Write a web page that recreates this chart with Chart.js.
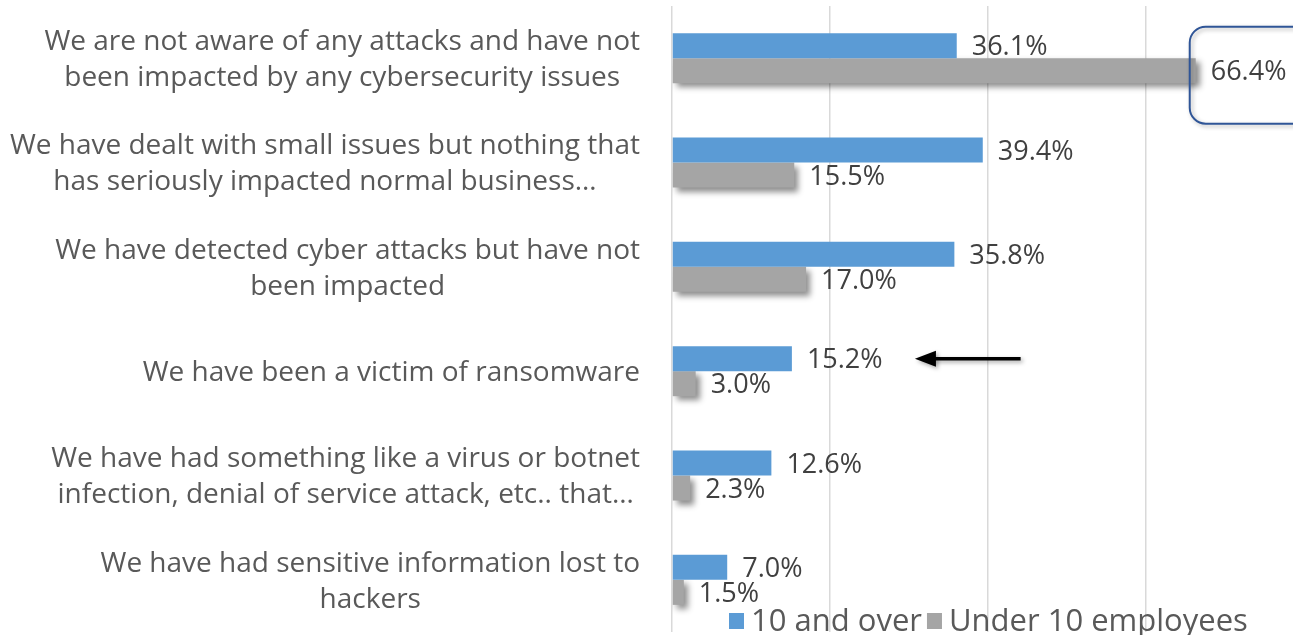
<!DOCTYPE html>
<html>
<head>
<meta charset="utf-8">
<script src="https://cdn.jsdelivr.net/npm/chart.js@4.4.0/dist/chart.umd.min.js"></script>
<style>
  html, body { margin: 0; padding: 0; background: #fff; overflow: hidden; }
  #wrap { position: relative; width: 1303px; height: 635px; }
</style>
</head>
<body>
<div id="wrap"><canvas id="chart"></canvas></div>
<script>
const categories = [
  ['We are not aware of any attacks and have not', 'been impacted by any cybersecurity issues'],
  ['We have dealt with small issues but nothing that', 'has seriously impacted normal business…'],
  ['We have detected cyber attacks but have not', 'been impacted'],
  ['We have been a victim of ransomware'],
  ['We have had something like a virus or botnet', 'infection, denial of service attack, etc.. that…'],
  ['We have had sensitive information lost to', 'hackers']
];
const over10 = [36.1, 39.4, 35.8, 15.2, 12.6, 7.0];
const under10 = [66.4, 15.5, 17.0, 3.0, 2.3, 1.5];
const seriesNames = ['10 and over', 'Under 10 employees'];
const xTicks = [0, 20, 40, 60, 80];

const FONT = '"Open Sans", sans-serif';
const TEXT = '#595959';

// soft drop shadow on the grey bars
const shadowPlugin = {
  id: 'shadow',
  beforeDatasetDraw(chart, args) {
    if (args.index !== 1) return;
    const ctx = chart.ctx;
    ctx.save();
    ctx.shadowColor = 'rgba(0,0,0,0.45)';
    ctx.shadowBlur = 6;
    ctx.shadowOffsetX = 4;
    ctx.shadowOffsetY = 4;
  },
  afterDatasetDraw(chart, args) {
    if (args.index === 1) chart.ctx.restore();
  }
};

const decorPlugin = {
  id: 'decor',
  afterDraw(chart) {
    const ctx = chart.ctx;
    const x = chart.scales.x, y = chart.scales.y;

    // category labels: block right aligned, lines centered inside it
    ctx.save();
    ctx.font = '28px ' + FONT;
    ctx.fillStyle = TEXT;
    ctx.textAlign = 'center';
    ctx.textBaseline = 'middle';
    categories.forEach((lines, i) => {
      const cy = y.getPixelForTick(i) + 2;
      const w = Math.max(...lines.map(l => ctx.measureText(l).width));
      const cx = 640 - w / 2;
      lines.forEach((l, k) => {
        ctx.fillText(l, cx, cy + (k - (lines.length - 1) / 2) * 36);
      });
    });
    ctx.restore();

    // rounded box round the 66.4% label
    const m1 = chart.getDatasetMeta(1).data[0];
    ctx.save();
    ctx.shadowColor = 'rgba(0,0,0,0.3)';
    ctx.shadowBlur = 4;
    ctx.shadowOffsetX = 2;
    ctx.shadowOffsetY = 2;
    ctx.strokeStyle = '#2F5597';
    ctx.lineWidth = 2;
    ctx.beginPath();
    ctx.roundRect(m1.x - 6, m1.y - 44, 150, 97, 16);
    ctx.stroke();
    ctx.restore();

    // value labels
    ctx.save();
    ctx.font = '27px ' + FONT;
    ctx.fillStyle = '#404040';
    ctx.textAlign = 'left';
    ctx.textBaseline = 'middle';
    chart.data.datasets.forEach((ds, di) => {
      chart.getDatasetMeta(di).data.forEach((bar, i) => {
        ctx.fillText(ds.data[i].toFixed(1) + '%', bar.x + 15, bar.y + 2);
      });
    });
    ctx.restore();

    // arrow pointing at the ransomware bar
    const m0 = chart.getDatasetMeta(0).data[3];
    const tip = x.getPixelForValue(30.8), tail = x.getPixelForValue(44.2);
    ctx.save();
    ctx.shadowColor = 'rgba(0,0,0,0.35)';
    ctx.shadowBlur = 4;
    ctx.shadowOffsetX = 2;
    ctx.shadowOffsetY = 2;
    ctx.strokeStyle = '#000';
    ctx.fillStyle = '#000';
    ctx.lineWidth = 3.5;
    ctx.beginPath();
    ctx.moveTo(tail, m0.y);
    ctx.lineTo(tip + 18, m0.y);
    ctx.stroke();
    ctx.beginPath();
    ctx.moveTo(tip, m0.y);
    ctx.lineTo(tip + 21, m0.y - 8);
    ctx.lineTo(tip + 21, m0.y + 8);
    ctx.closePath();
    ctx.fill();
    ctx.restore();

    // legend
    ctx.save();
    ctx.font = '31px ' + FONT;
    ctx.textBaseline = 'middle';
    ctx.textAlign = 'left';
    let lx = 729;
    chart.data.datasets.forEach(ds => {
      ctx.fillStyle = ds.backgroundColor;
      ctx.fillRect(lx, 613, 15, 16);
      ctx.fillStyle = TEXT;
      ctx.fillText(ds.label, lx + 22, 622);
      lx += 22 + ctx.measureText(ds.label).width + 5;
    });
    ctx.restore();
  }
};

new Chart(document.getElementById('chart'), {
  type: 'bar',
  data: {
    labels: categories,
    datasets: [
      { label: seriesNames[0], data: over10, backgroundColor: '#5B9BD5' },
      { label: seriesNames[1], data: under10, backgroundColor: '#A5A5A5' }
    ]
  },
  options: {
    indexAxis: 'y',
    responsive: true,
    maintainAspectRatio: false,
    animation: false,
    layout: { padding: { top: 6, bottom: 3, left: 0, right: 0 } },
    datasets: { bar: { categoryPercentage: 0.48, barPercentage: 1 } },
    plugins: { legend: { display: false }, tooltip: { enabled: false } },
    scales: {
      x: {
        min: xTicks[0],
        max: xTicks[xTicks.length - 1],
        afterBuildTicks: s => { s.ticks = xTicks.map(v => ({ value: v })); },
        ticks: { display: false },
        grid: { color: '#d9d9d9', lineWidth: 1.5, drawTicks: false },
        border: { display: false }
      },
      y: {
        ticks: { display: false },
        grid: { display: false, drawTicks: false },
        border: { display: false },
        afterFit: s => { s.width = 672; }
      }
    }
  },
  plugins: [shadowPlugin, decorPlugin]
});
</script>
</body>
</html>
